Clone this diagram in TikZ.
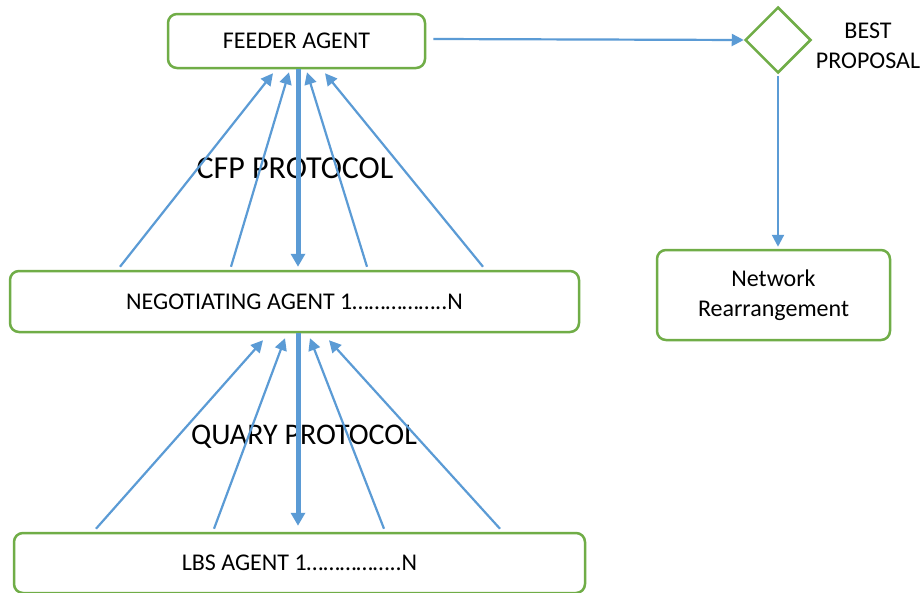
\documentclass[tikz,border=0pt]{standalone}
\usepackage{fontspec}
\setmainfont{Carlito}
\usetikzlibrary{arrows.meta,shapes.geometric}
\definecolor{boxgreen}{HTML}{70AD47}
\definecolor{arrblue}{HTML}{5B9BD5}
\begin{document}
\begin{tikzpicture}[x=1pt,y=-1pt,
  agentbox/.style={draw=boxgreen,line width=2.5pt,rounded corners=9pt,fill=white,inner sep=0pt,font=\fontsize{24}{30}\selectfont,align=center},
  arr/.style={draw=arrblue,line width=2.2pt,-{Triangle[length=12pt,width=12pt]}},
  thickarr/.style={draw=arrblue,line width=5pt,-{Triangle[length=13pt,width=14pt]}},
  lbl/.style={font=\fontsize{24}{30}\selectfont,align=center,inner sep=0pt},
  cfplbl/.style={font=\fontsize{32}{36}\selectfont,inner sep=0pt},
  quarylbl/.style={font=\fontsize{30}{36}\selectfont,inner sep=0pt}]
\useasboundingbox (0,0) rectangle (924,592);
\fill[white] (0,0) rectangle (924,592);
% boxes
\node[agentbox,minimum width=257pt,minimum height=54pt] (feeder) at (296.5,41) {FEEDER AGENT};
\node[agentbox,minimum width=569pt,minimum height=61pt] (neg) at (294.5,301.5) {NEGOTIATING AGENT 1……………..N};
\node[agentbox,minimum width=571pt,minimum height=60pt] (lbs) at (299.5,563) {LBS AGENT 1……………..N};
\node[agentbox,minimum width=233pt,minimum height=90pt] (net) at (773.5,295) {Network\\Rearrangement};
\node[draw=boxgreen,line width=2.5pt,diamond,minimum width=66pt,minimum height=66pt,inner sep=0pt] (dec) at (778,40) {};
\node[lbl] (best) at (868,46) {BEST\\PROPOSAL};
% protocol labels
\node[cfplbl] (cfp) at (295,168) {CFP PROTOCOL};
\node[quarylbl] (quary) at (304,437) {QUARY PROTOCOL};
% upper arrows
\draw[arr] ([xshift=-174.5pt,yshift=3pt]neg.north) -- ([xshift=-23.5pt,yshift=-4pt]feeder.south);
\draw[arr] ([xshift=-63.5pt,yshift=3pt]neg.north) -- ([xshift=-7.5pt,yshift=-3pt]feeder.south);
\draw[arr] ([xshift=72.5pt,yshift=3pt]neg.north) -- ([xshift=10.5pt,yshift=-3pt]feeder.south);
\draw[arr] ([xshift=188.5pt,yshift=3pt]neg.north) -- ([xshift=28.5pt,yshift=-4pt]feeder.south);
\draw[thickarr] ([xshift=1.5pt]feeder.south) -- ([xshift=3.5pt,yshift=3pt]neg.north);
% lower arrows
\draw[arr] ([xshift=-203.5pt,yshift=3pt]lbs.north) -- ([xshift=-31.5pt,yshift=-7pt]neg.south);
\draw[arr] ([xshift=-85.5pt,yshift=3pt]lbs.north) -- ([xshift=-9.5pt,yshift=-5pt]neg.south);
\draw[arr] ([xshift=84.5pt,yshift=3pt]lbs.north) -- ([xshift=15.5pt,yshift=-5pt]neg.south);
\draw[arr] ([xshift=200.5pt,yshift=3pt]lbs.north) -- ([xshift=34.5pt,yshift=-7pt]neg.south);
\draw[thickarr] ([xshift=3.5pt]neg.south) -- ([xshift=-1.5pt,yshift=6pt]lbs.north);
% right side
\draw[arr] ([xshift=7pt,yshift=2pt]feeder.east) -- (dec.west);
\draw[arr] ([yshift=-2pt]dec.south) -- ([xshift=4.5pt,yshift=2pt]net.north);
\end{tikzpicture}
\end{document}
